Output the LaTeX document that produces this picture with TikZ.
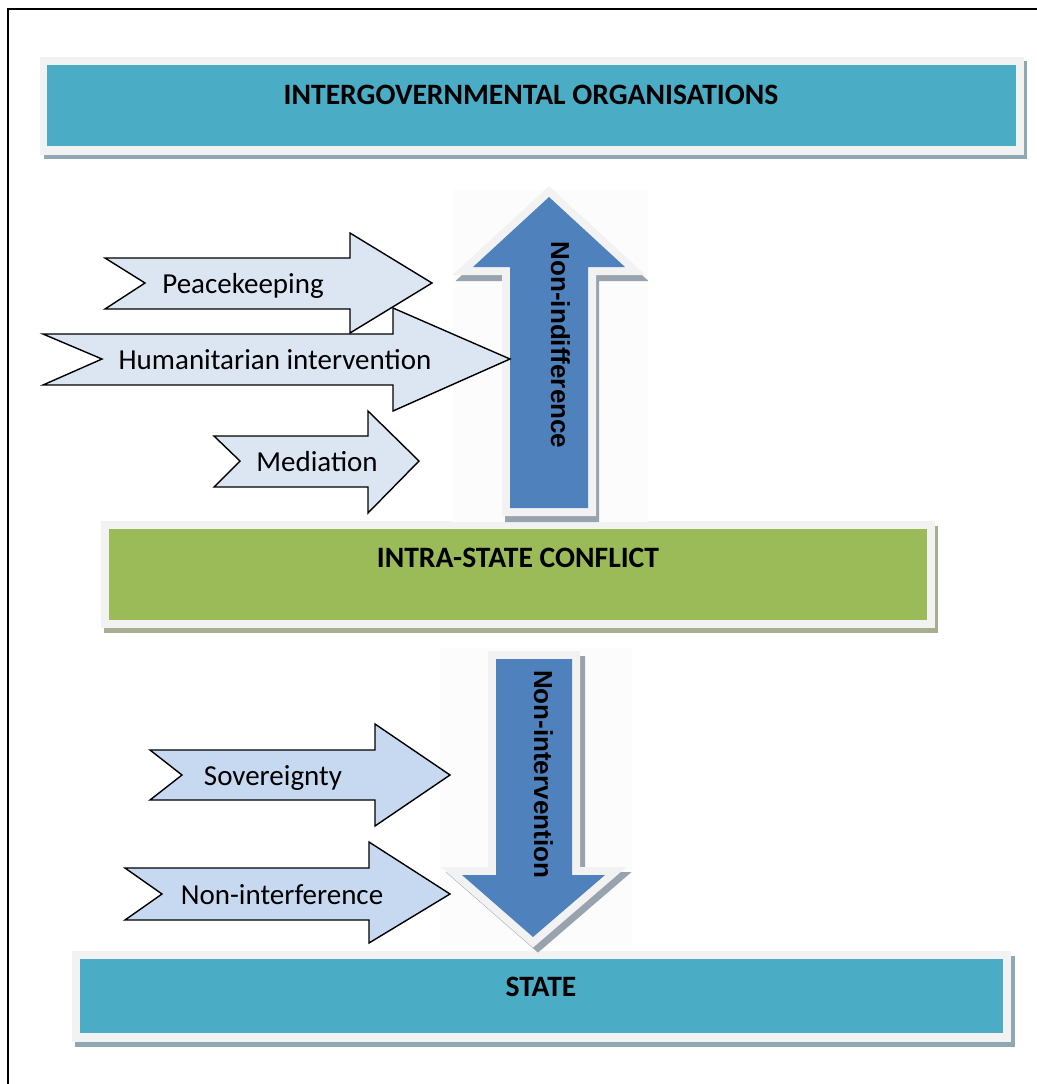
\documentclass[tikz,border=0pt]{standalone}
\usepackage{fontspec}
\setmainfont{Carlito}
\newfontfamily\arrowfont{Liberation Sans}

\definecolor{igoblue}{HTML}{4BACC6}
\definecolor{conflictgreen}{HTML}{9BBB59}
\definecolor{framegray}{HTML}{F2F2F2}
\definecolor{blueshadow}{HTML}{8EA9B1}
\definecolor{greenshadow}{HTML}{A6AF8F}
\definecolor{arrowblue}{HTML}{4F81BD}
\definecolor{arrowshadow}{HTML}{98A3AE}
\definecolor{upfill}{HTML}{DCE6F2}
\definecolor{downfill}{HTML}{C6D9F1}

\tikzset{
    lightarrow/.style={draw=black, line width=0.7pt, line join=miter},
    armtext/.style={font=\fontsize{14.5}{17}\selectfont, text height=1.5ex, text depth=0.25ex, inner sep=0pt},
    boxtext/.style={font=\bfseries\fontsize{14.8}{17}\selectfont, text height=1.5ex, text depth=0.25ex, inner sep=0pt},
    bigtext/.style={font=\arrowfont\bfseries\fontsize{13}{15}\selectfont, text height=1.5ex, text depth=0.25ex, inner sep=0pt, rotate=-90},
    bigframe/.style={draw=framegray, fill=framegray, line width=8pt, line join=miter},
    bigshadow/.style={draw=arrowshadow, fill=arrowshadow, line width=8pt, line join=miter}
}

% outlines of the two thick arrows
\def\uppath{(549,197) -- (625,267) -- (588,267) -- (588,508) -- (510,508) -- (510,267) -- (473,267) -- cycle}
\def\downpath{(496,659) -- (572,659) -- (572,875) -- (605,875) -- (533,937) -- (462,875) -- (496,875) -- cycle}

\begin{document}
\begin{tikzpicture}[x=0.5pt, y=-0.5pt]
    \useasboundingbox (0,0) rectangle (1037,1084);
    \draw [line width=1pt] (8,1084) -- (8,9) -- (1037,9);

    % Boxes {igo, conflict, state}
    \fill [blueshadow]    (44,61)   rectangle (1027,159);
    \fill [framegray]     (40,57)   rectangle (1024,155);
    \fill [igoblue]       (47,65)   rectangle (1016,146);
    \node [boxtext] (igo) at (531,99) {INTERGOVERNMENTAL ORGANISATIONS};

    \fill [greenshadow]   (104,526) rectangle (938,633);
    \fill [framegray]     (101,521) rectangle (935,628);
    \fill [conflictgreen] (109,529) rectangle (927,620);
    \node [boxtext] (conflict) at (518,562) {INTRA-STATE CONFLICT};

    \fill [blueshadow]    (75,956)  rectangle (1015,1047);
    \fill [framegray]     (72,951)  rectangle (1011,1042);
    \fill [igoblue]       (80,959)  rectangle (1003,1033);
    \node [boxtext] (state) at (541,991) {STATE};

    % Upward arrow
    \fill [gray!2] (453,190) rectangle (648,522);
    \path [bigshadow, shift={(3,6)}] \uppath;
    \path [bigframe] \uppath;
    \fill [arrowblue] \uppath;
    \node [bigtext] (indiff) at (557,345) {Non-indifference};

    % Downward arrow
    \fill [gray!2] (440,648) rectangle (632,946);
    \path [bigshadow, shift={(5,5)}] \downpath;
    \path [bigframe] \downpath;
    \fill [arrowblue] \downpath;
    \node [bigtext] (interv) at (540,774) {Non-intervention};

    % Arrows towards the conflict
    \draw [lightarrow, fill=upfill] (105,258) -- (350,258) -- (350,233) -- (432,283) -- (350,333)
        -- (350,309) -- (105,309) -- (145,283) -- cycle;
    \draw [lightarrow, fill=upfill] (43,334) -- (393,334) -- (393,308) -- (510,359) -- (393,411)
        -- (393,385) -- (43,385) -- (102,359) -- cycle;
    \draw [lightarrow, fill=upfill] (214,436) -- (368,436) -- (368,411) -- (419,461) -- (368,513)
        -- (368,487) -- (214,487) -- (240,461) -- cycle;
    \node [armtext] (peace)  at (243,288) {Peacekeeping};
    \node [armtext] (human)  at (275,364) {Humanitarian intervention};
    \node [armtext] (mediat) at (317,466) {Mediation};

    % Arrows towards the state
    \draw [lightarrow, fill=downfill] (150,750) -- (375,750) -- (375,724) -- (450,775) -- (375,826)
        -- (375,800) -- (150,800) -- (182,775) -- cycle;
    \draw [lightarrow, fill=downfill] (125,868) -- (369,868) -- (369,842) -- (450,894) -- (369,943)
        -- (369,920) -- (125,920) -- (162,894) -- cycle;
    \node [armtext] (sover)  at (273,780) {Sovereignty};
    \node [armtext] (interf) at (282,899) {Non-interference};
\end{tikzpicture}
\end{document}
